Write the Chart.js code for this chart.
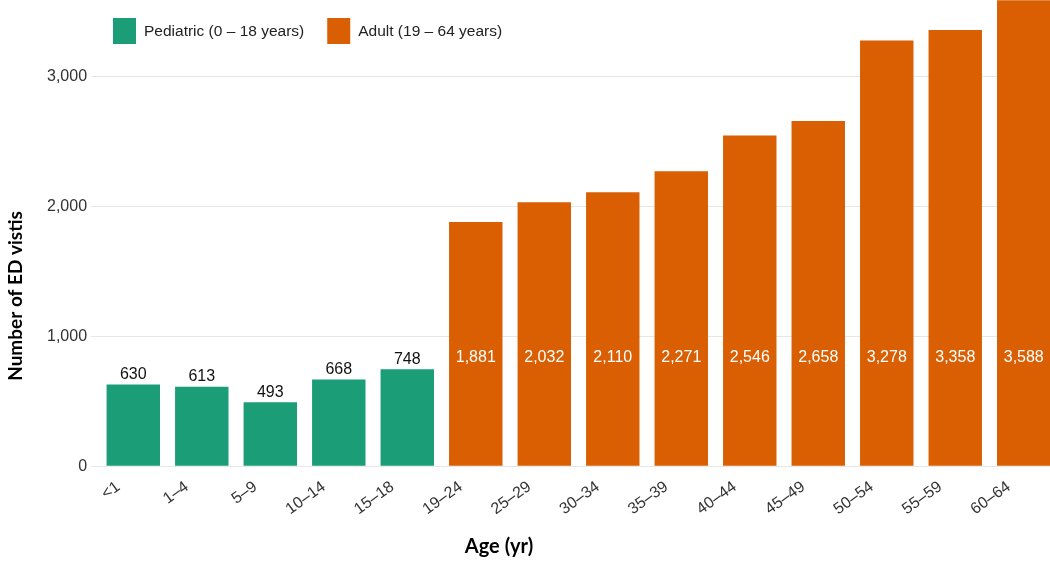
<!DOCTYPE html>
<html>
<head>
<meta charset="utf-8">
<script src="https://cdn.jsdelivr.net/npm/chart.js@4.4.0/dist/chart.umd.min.js"></script>
<style>
    html, body { margin: 0; padding: 0; background: #fff; overflow: hidden; }
    /* canvas a bit taller and pulled up so the plot reaches the top edge */
    #wrap { position: relative; width: 1060px; height: 583px; margin-top: -15px; }
</style>
</head>
<body>
<div id="wrap"><canvas id="edChart"></canvas></div>
<script>
// data
const ageGroups = ['<1', '1–4', '5–9', '10–14', '15–18', '19–24', '25–29', '30–34',
    '35–39', '40–44', '45–49', '50–54', '55–59', '60–64'];
const pediatricVisits = [630, 613, 493, 668, 748, null, null, null, null, null, null, null, null, null];
const adultVisits = [null, null, null, null, null, 1881, 2032, 2110, 2271, 2546, 2658, 3278, 3358, 3588];
const yTicks = [0, 1000, 2000, 3000];
const seriesNames = ['Pediatric (0 – 18 years)', 'Adult (19 – 64 years)'];
const xTitle = 'Age (yr)';
const yTitle = 'Number of ED vistis';

const GREEN = '#1b9e77';
const ORANGE = '#d95f02';
const TICK_FONT = '"Liberation Sans", Arial, sans-serif';
const TITLE_FONT = 'Lato, "Open Sans", sans-serif';
const SHIFT = 15; // matches margin-top of #wrap

// value labels: above the pediatric bars, inside (fixed height) for adult bars
const barLabels = {
    id: 'barLabels',
    afterDatasetsDraw(chart) {
        const ctx = chart.ctx;
        const base = chart.scales.y.getPixelForValue(0);
        ctx.save();
        ctx.font = '16px ' + TICK_FONT;
        ctx.textAlign = 'center';
        chart.data.datasets.forEach((ds, i) => {
            chart.getDatasetMeta(i).data.forEach((bar, j) => {
                const v = ds.data[j];
                if (v == null) return;
                const txt = v.toLocaleString('en-US');
                if (i === 0) {
                    ctx.fillStyle = '#111';
                    ctx.textBaseline = 'bottom';
                    ctx.fillText(txt, bar.x, bar.y - 2);
                } else {
                    ctx.fillStyle = '#fff';
                    ctx.textBaseline = 'middle';
                    ctx.fillText(txt, bar.x, base - 109);
                }
            });
        });
        ctx.restore();
    }
};

// legend over the plot area + axis titles (placed like the original, off-centre)
const overlayText = {
    id: 'overlayText',
    afterDraw(chart) {
        const ctx = chart.ctx;
        const colors = [GREEN, ORANGE];
        let x = 113;
        ctx.save();
        ctx.translate(0, SHIFT);
        ctx.font = '15.5px ' + TICK_FONT;
        ctx.textBaseline = 'middle';
        ctx.textAlign = 'left';
        seriesNames.forEach((name, i) => {
            ctx.fillStyle = colors[i];
            ctx.fillRect(x, 18, 23, 26);
            ctx.fillStyle = '#222';
            ctx.fillText(name, x + 31, 32);
            x += 31 + ctx.measureText(name).width + 23;
        });

        ctx.fillStyle = '#000';
        ctx.textAlign = 'center';
        ctx.font = 'bold 20px ' + TITLE_FONT;
        ctx.fillText(xTitle, 499, 547);

        ctx.font = 'bold 19px ' + TITLE_FONT;
        ctx.translate(16, 296);
        ctx.rotate(-Math.PI / 2);
        ctx.fillText(yTitle, 0, 0);
        ctx.restore();
    }
};

new Chart(document.getElementById('edChart'), {
    type: 'bar',
    data: {
        labels: ageGroups,
        datasets: [
            { label: seriesNames[0], data: pediatricVisits, backgroundColor: GREEN },
            { label: seriesNames[1], data: adultVisits, backgroundColor: ORANGE }
        ]
    },
    options: {
        responsive: true,
        maintainAspectRatio: false,
        animation: false,
        grouped: false,
        categoryPercentage: 1,
        barPercentage: 0.78,
        layout: { padding: { top: 0, right: 2, bottom: 46, left: 43 } },
        plugins: {
            legend: { display: false },
            tooltip: { enabled: false }
        },
        scales: {
            x: {
                grid: { display: false },
                border: { display: false },
                ticks: {
                    minRotation: 36, maxRotation: 36,
                    labelOffset: -15,
                    color: '#333',
                    font: { family: TICK_FONT, size: 16 }
                }
            },
            y: {
                min: 0, max: 3600,
                afterBuildTicks: axis => { axis.ticks = yTicks.map(v => ({ value: v })); },
                grid: { color: '#e6e6e6', tickColor: '#e6e6e6', tickLength: 8 },
                border: { display: false },
                ticks: {
                    color: '#333',
                    padding: 4,
                    font: { family: TICK_FONT, size: 16 },
                    callback: v => v.toLocaleString('en-US')
                }
            }
        }
    },
    plugins: [barLabels, overlayText]
});
</script>
</body>
</html>
